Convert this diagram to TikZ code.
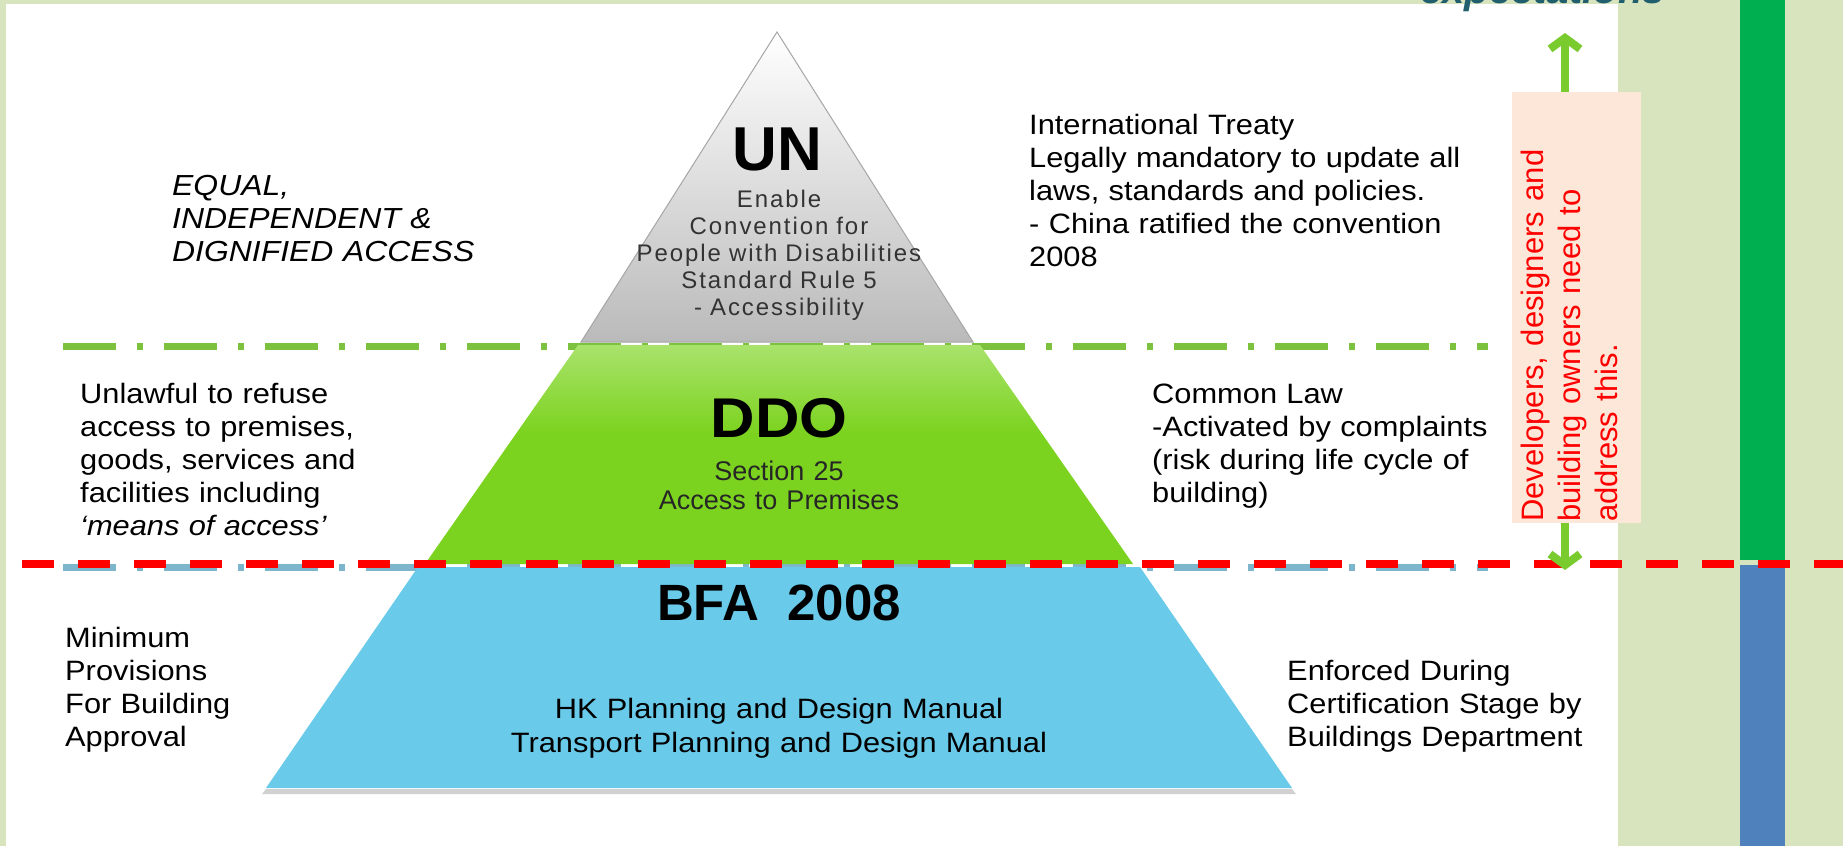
\documentclass[tikz,border=0pt]{standalone}
\usepackage{fontspec}
\setmainfont{Liberation Sans}
\newfontfamily\widefont[FakeStretch=1.1]{Liberation Sans}
\newfontfamily\unsubfont[LetterSpace=8]{Liberation Sans}
\usetikzlibrary{arrows.meta}
\definecolor{bgLight}{HTML}{D7E4BD}
\definecolor{barGreen}{HTML}{00B050}
\definecolor{barBlue}{HTML}{4F81BD}
\definecolor{peachBox}{HTML}{FCE7D8}
\definecolor{dashGreen}{HTML}{7CC23F}
\definecolor{dashBlue}{HTML}{7DB6CC}
\definecolor{arrowGreen}{HTML}{7ACB2E}
\definecolor{expTeal}{HTML}{215E6E}
\definecolor{unGray}{HTML}{BABABA}
\definecolor{ddoTop}{HTML}{C6EC9E}
\definecolor{ddoBot}{HTML}{7CD31F}
\definecolor{bfaTop}{HTML}{8AD8F1}
\definecolor{bfaBot}{HTML}{69CAEA}
\pgfdeclareverticalshading{ddoshade}{100bp}{color(0bp)=(ddoBot); color(55bp)=(ddoBot); color(88bp)=(ddoTop); color(100bp)=(ddoTop)}
\pgfdeclareverticalshading{bfashade}{100bp}{color(0bp)=(bfaBot); color(80bp)=(bfaBot); color(96bp)=(bfaTop); color(100bp)=(bfaTop)}
\tikzset{
  txtblk/.style={inner sep=0pt, text width=520pt, align=left, anchor=base west,
    font=\widefont\fontsize{28}{33}\selectfont},
  ctrblk/.style={inner sep=0pt, text width=#1, align=center, anchor=base},
  ctrblk/.default=600pt,
  dashdot/.style={line width=7pt, dash pattern=on 53pt off 21pt on 6pt off 21pt},
}
\begin{document}
\begin{tikzpicture}[x=1pt,y=-1pt]
\useasboundingbox (0,0) rectangle (1843,846);
\begin{scope}
\clip (0,0) rectangle (1843,846);
% backgrounds
\fill[bgLight] (0,0) rectangle (1843,846);
\fill[white] (6,4) rectangle (1618,846);
\fill[barGreen] (1740,0) rectangle (1785,560);
\fill[barBlue] (1740,565) rectangle (1785,846);
\node[anchor=base west, inner sep=0pt, text=expTeal,
  font=\bfseries\itshape\fontsize{40}{40}\selectfont] (expect) at (1420,3) {expectations};
% level lines
\draw[dashGreen, dashdot] (63,346) -- (1488,346);
\draw[dashBlue, dashdot] (63,567) -- (1488,567);
% pyramid
\fill[black!18] (266,789) -- (1292,789) -- (1296,794) -- (262,794) -- cycle;
\path[shading=bfashade] (418,567) -- (1140,567) -- (1292,788) -- (266,788) -- cycle;
\path[shading=ddoshade] (578,345) -- (980,345) -- (1133,564) -- (425,564) -- cycle;
\draw[black!35, line width=1pt, top color=white, bottom color=unGray]
  (777,32) -- (973,342) -- (581,342) -- cycle;
% pyramid texts
\node[anchor=base, inner sep=0pt, font=\bfseries\fontsize{62}{62}\selectfont] (un) at (777,170) {UN};
\node[ctrblk=380pt, text=black!80, font=\unsubfont\fontsize{24}{27}\selectfont] (unsub) at (779,207)
  {Enable\\Convention for\\People with Disabilities\\Standard Rule 5\\- Accessibility};
\node[anchor=base, inner sep=0pt, font=\widefont\bfseries\fontsize{56}{56}\selectfont] (ddo) at (779,437) {DDO};
\node[ctrblk=320pt, text=black!85, font=\fontsize{27}{29}\selectfont] (ddosub) at (779,480)
  {Section 25\\Access to Premises};
\node[anchor=base, inner sep=0pt, font=\bfseries\fontsize{51}{51}\selectfont] (bfa) at (779,620) {BFA\ \ 2008};
\node[ctrblk=620pt, font=\widefont\fontsize{28}{34}\selectfont] (bfasub) at (779,718)
  {HK Planning and Design Manual\\Transport Planning and Design Manual};
% side texts
\node[txtblk, font=\widefont\itshape\fontsize{29}{33}\selectfont] (equal) at (172,195)
  {EQUAL,\\INDEPENDENT \&\\DIGNIFIED ACCESS};
\node[txtblk] (unlawful) at (80,403)
  {Unlawful to refuse\\access to premises,\\goods, services and\\facilities including\\\textit{‘means of access’}};
\node[txtblk] (minimum) at (65,647)
  {Minimum\\Provisions\\For Building\\Approval};
\node[txtblk] (treaty) at (1029,134)
  {International Treaty\\Legally mandatory to update all\\laws, standards and policies.\\- China ratified the convention\\2008};
\node[txtblk] (common) at (1152,403)
  {Common Law\\-Activated by complaints\\(risk during life cycle of\\building)};
\node[txtblk] (enforced) at (1287,680)
  {Enforced During\\Certification Stage by\\Buildings Department};
% red boundary line
\draw[red, line width=8pt, dash pattern=on 32pt off 24pt] (22,564) -- (1843,564);
% arrow and note
\coordinate (arrtop) at (1565,33);
\coordinate (arrbot) at (1565,570);
\draw[arrowGreen, line width=8pt,
  {Straight Barb[length=11pt,width=30pt]}-{Straight Barb[length=11pt,width=30pt]}] (arrtop) -- (arrbot);
\fill[peachBox] (1512,92) rectangle (1641,523);
\node[rotate=90, anchor=north west, inner sep=0pt, text width=420pt, align=left, text=red,
  font=\fontsize{31}{37}\selectfont] (dev) at (1521,522)
  {Developers, designers and\\building owners need to\\address this.};
\end{scope}
\end{tikzpicture}
\end{document}
